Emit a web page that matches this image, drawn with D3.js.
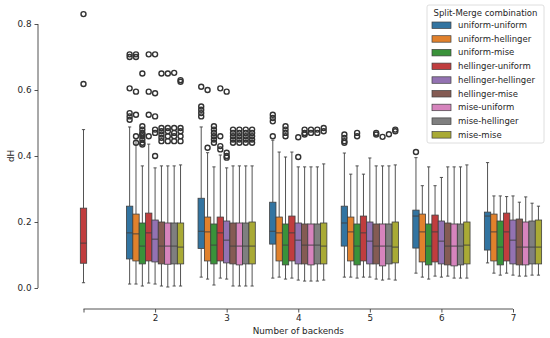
<!DOCTYPE html>
<html>
<head>
<meta charset="utf-8">
<script src="https://cdn.jsdelivr.net/npm/d3@7"></script>
<style>
  body { margin: 0; background: #fff; }
  text { font-family: "DejaVu Sans", sans-serif; fill: #262626; }
</style>
</head>
<body>
<svg id="chart" width="550" height="338"></svg>
<script>
// Number of backends on the x axis
const backends = [1, 2, 3, 4, 5, 6, 7];
const tickLabels = ["", "2", "3", "4", "5", "6", "7"];

const combos = ["uniform-uniform", "uniform-hellinger", "uniform-mise",
  "hellinger-uniform", "hellinger-hellinger", "hellinger-mise",
  "mise-uniform", "mise-hellinger", "mise-mise"];
const colors = ["#3274a1", "#e1812c", "#3a923a", "#c03d3e", "#9372b2",
  "#845b53", "#d684bd", "#7f7f7f", "#a9aa35"];

// box stats per backend (rows) and combination (columns); null = no data
const whiskerLo = [
  [null, null, null, 0.016, null, null, null, null, null],
  [0.012, 0.012, 0.006, 0.015, 0.012, 0.006, 0.003, 0.006, 0.006],
  [0.033, 0.027, 0.009, 0.030, 0.027, 0.006, 0.006, 0.006, 0.006],
  [0.030, 0.033, 0.027, 0.030, 0.024, 0.021, 0.021, 0.021, 0.024],
  [0.033, 0.033, 0.030, 0.033, 0.033, 0.027, 0.024, 0.027, 0.024],
  [0.045, 0.033, 0.027, 0.036, 0.033, 0.036, 0.030, 0.030, 0.030],
  [0.076, 0.045, 0.039, 0.045, 0.039, 0.036, 0.036, 0.039, 0.039]
];
const q1 = [
  [null, null, null, 0.075, null, null, null, null, null],
  [0.088, 0.082, 0.073, 0.082, 0.079, 0.073, 0.072, 0.073, 0.073],
  [0.120, 0.082, 0.073, 0.082, 0.076, 0.073, 0.070, 0.073, 0.073],
  [0.133, 0.082, 0.070, 0.082, 0.073, 0.073, 0.070, 0.073, 0.073],
  [0.127, 0.082, 0.070, 0.082, 0.073, 0.073, 0.067, 0.073, 0.076],
  [0.121, 0.079, 0.070, 0.079, 0.073, 0.070, 0.067, 0.070, 0.073],
  [0.115, 0.082, 0.070, 0.082, 0.073, 0.070, 0.070, 0.073, 0.073]
];
const median = [
  [null, null, null, 0.136, null, null, null, null, null],
  [0.167, 0.164, 0.127, 0.167, 0.148, 0.127, 0.127, 0.127, 0.124],
  [0.172, 0.170, 0.130, 0.167, 0.145, 0.127, 0.127, 0.127, 0.127],
  [0.172, 0.167, 0.130, 0.167, 0.145, 0.130, 0.130, 0.130, 0.127],
  [0.197, 0.170, 0.127, 0.167, 0.142, 0.127, 0.127, 0.127, 0.124],
  [0.218, 0.170, 0.127, 0.170, 0.142, 0.127, 0.127, 0.127, 0.130],
  [0.218, 0.170, 0.124, 0.170, 0.145, 0.124, 0.124, 0.124, 0.124]
];
const q3 = [
  [null, null, null, 0.242, null, null, null, null, null],
  [0.248, 0.224, 0.197, 0.227, 0.206, 0.200, 0.197, 0.197, 0.197],
  [0.272, 0.215, 0.194, 0.215, 0.203, 0.197, 0.197, 0.197, 0.200],
  [0.260, 0.215, 0.194, 0.218, 0.197, 0.194, 0.194, 0.194, 0.197],
  [0.248, 0.215, 0.194, 0.218, 0.200, 0.194, 0.194, 0.194, 0.200],
  [0.236, 0.224, 0.194, 0.221, 0.203, 0.197, 0.194, 0.194, 0.200],
  [0.230, 0.224, 0.203, 0.227, 0.206, 0.209, 0.200, 0.203, 0.206]
];
const whiskerHi = [
  [null, null, null, 0.480, null, null, null, null, null],
  [0.488, 0.448, 0.370, 0.436, 0.364, 0.370, 0.370, 0.370, 0.373],
  [0.488, 0.410, 0.367, 0.403, 0.364, 0.370, 0.370, 0.370, 0.370],
  [0.448, 0.412, 0.397, 0.412, 0.367, 0.367, 0.367, 0.367, 0.376],
  [0.409, 0.345, 0.370, 0.345, 0.394, 0.370, 0.370, 0.370, 0.373],
  [0.395, 0.310, 0.367, 0.310, 0.335, 0.367, 0.367, 0.367, 0.373],
  [0.380, 0.279, 0.279, 0.277, 0.279, 0.260, 0.276, 0.257, 0.248]
];
const outliers = [
  [[], [], [], [0.83, 0.618], [], [], [], [], []],
  [[0.708, 0.70, 0.605, 0.53, 0.52, 0.51],
   [0.708, 0.70, 0.595, 0.525, 0.46, 0.44],
   [0.65, 0.49, 0.48, 0.47, 0.465, 0.46, 0.45, 0.44, 0.435],
   [0.708, 0.595, 0.525, 0.46],
   [0.708, 0.59, 0.52, 0.48, 0.47, 0.40],
   [0.65, 0.485, 0.475, 0.465, 0.455, 0.445],
   [0.65, 0.485, 0.475, 0.46, 0.445],
   [0.652, 0.485, 0.47, 0.46, 0.445],
   [0.63, 0.625, 0.485, 0.475, 0.46, 0.445]],
  [[0.61, 0.55, 0.54, 0.53, 0.52],
   [0.60, 0.425],
   [0.49, 0.48, 0.47, 0.46, 0.45, 0.44],
   [0.605, 0.46, 0.43, 0.42],
   [0.595, 0.41, 0.40, 0.395],
   [0.48, 0.47, 0.46, 0.45, 0.44],
   [0.48, 0.47, 0.46, 0.45, 0.44],
   [0.48, 0.47, 0.46, 0.45, 0.44],
   [0.48, 0.47, 0.46, 0.45, 0.44]],
  [[0.525, 0.515, 0.505, 0.46],
   [],
   [0.49, 0.48, 0.47, 0.46],
   [],
   [0.457, 0.397],
   [0.48, 0.47, 0.465],
   [0.48, 0.47],
   [0.48, 0.47],
   [0.485, 0.475]],
  [[0.465, 0.455, 0.445, 0.44], [], [0.47, 0.46], [], [],
   [0.47, 0.465], [0.458], [0.466], [0.48, 0.475]],
  [[0.412], [], [], [], [], [], [], [], []],
  [[], [], [], [], [], [], [], [], []]
];

const svg = d3.select("#chart");
const lineCol = "#3f3f3f";

const x = d3.scaleLinear().domain([1, 7]).range([83.5, 513]);
const y = d3.scaleLinear().domain([0, 0.8]).range([288, 24]);
// dodge inside each backend group (in data units)
const hue = d3.scaleBand().domain(combos).range([-0.4, 0.4]);
const boxW = x(1 + hue.bandwidth()) - x(1);

// build flat list of boxes
const boxes = [];
backends.forEach((b, gi) => {
  const present = combos.filter((c, ci) => q1[gi][ci] != null);
  combos.forEach((c, ci) => {
    if (q1[gi][ci] == null) return;
    const off = present.length === 1 ? 0 : hue(c) + hue.bandwidth() / 2;
    boxes.push({
      cx: x(b + off), color: colors[ci],
      lo: whiskerLo[gi][ci], q1: q1[gi][ci], med: median[gi][ci],
      q3: q3[gi][ci], hi: whiskerHi[gi][ci], out: outliers[gi][ci]
    });
  });
});

const g = svg.append("g");
const bx = g.selectAll(".box").data(boxes).enter().append("g").attr("class", "box");

// whiskers
bx.append("line").attr("x1", d => d.cx).attr("x2", d => d.cx)
  .attr("y1", d => y(d.q3)).attr("y2", d => y(d.hi))
  .attr("stroke", lineCol).attr("stroke-width", 0.9);
bx.append("line").attr("x1", d => d.cx).attr("x2", d => d.cx)
  .attr("y1", d => y(d.q1)).attr("y2", d => y(d.lo))
  .attr("stroke", lineCol).attr("stroke-width", 0.9);
// caps
[d => d.hi, d => d.lo].forEach(f => {
  bx.append("line").attr("x1", d => d.cx - boxW / 4).attr("x2", d => d.cx + boxW / 4)
    .attr("y1", d => y(f(d))).attr("y2", d => y(f(d)))
    .attr("stroke", lineCol).attr("stroke-width", 0.9);
});
// boxes
bx.append("rect")
  .attr("x", d => d.cx - boxW / 2).attr("width", boxW)
  .attr("y", d => y(d.q3)).attr("height", d => y(d.q1) - y(d.q3))
  .attr("fill", d => d.color).attr("stroke", lineCol).attr("stroke-width", 0.8);
// median
bx.append("line").attr("x1", d => d.cx - boxW / 2).attr("x2", d => d.cx + boxW / 2)
  .attr("y1", d => y(d.med)).attr("y2", d => y(d.med))
  .attr("stroke", lineCol).attr("stroke-width", 0.9);
// fliers
bx.selectAll("circle").data(d => d.out.map(v => ({ cx: d.cx, v: v }))).enter()
  .append("circle")
  .attr("cx", d => d.cx).attr("cy", d => y(d.v)).attr("r", 2.5)
  .attr("fill", "none").attr("stroke", "#333").attr("stroke-width", 1.4);

// y axis (despined, trimmed)
const yAxis = svg.append("g").attr("transform", "translate(38,0)")
  .call(d3.axisLeft(y).tickValues([0, 0.2, 0.4, 0.6, 0.8]).tickFormat(d3.format(".1f"))
    .tickSize(3.5).tickPadding(3));
// x axis
const xAxis = svg.append("g").attr("transform", "translate(0,309)")
  .call(d3.axisBottom(x).tickValues(backends).tickFormat((d, i) => tickLabels[i])
    .tickSize(3.5).tickPadding(2.5));
[yAxis, xAxis].forEach(a => {
  a.select(".domain").attr("stroke", lineCol).attr("stroke-width", 0.9);
  a.selectAll(".tick line").attr("stroke", lineCol).attr("stroke-width", 0.9);
  a.selectAll("text").style("font-family", "DejaVu Sans").style("font-size", "8.8px")
    .attr("fill", "#262626");
});
yAxis.select(".domain").attr("d", `M0,${y(0.8)}V${y(0)}`);
xAxis.select(".domain").attr("d", `M${x(1)},0H${x(7)}`);

svg.append("text").attr("x", x(4)).attr("y", 334).attr("text-anchor", "middle")
  .style("font-size", "8.8px").text("Number of backends");
svg.append("text").attr("transform", "translate(14,156) rotate(-90)")
  .attr("text-anchor", "middle").style("font-size", "8.8px").text("dH");

// legend
const lg = svg.append("g").attr("transform", "translate(427,5)");
lg.append("rect").attr("width", 117).attr("height", 138).attr("rx", 2)
  .attr("fill", "#fff").attr("fill-opacity", 0.8).attr("stroke", "#d6d6d6").attr("stroke-width", 0.8);
lg.append("text").attr("x", 58.5).attr("y", 10.5).attr("text-anchor", "middle")
  .style("font-size", "8.5px").text("Split-Merge combination");
const items = lg.selectAll(".item").data(combos).enter().append("g")
  .attr("transform", (d, i) => `translate(0,${20 + i * 13.7})`);
items.append("rect").attr("x", 5).attr("y", -3).attr("width", 19).attr("height", 6.5)
  .attr("fill", (d, i) => colors[i]).attr("stroke", lineCol).attr("stroke-width", 0.7);
items.append("text").attr("x", 31).attr("y", 3).style("font-size", "8.5px").text(d => d);
</script>
</body>
</html>
